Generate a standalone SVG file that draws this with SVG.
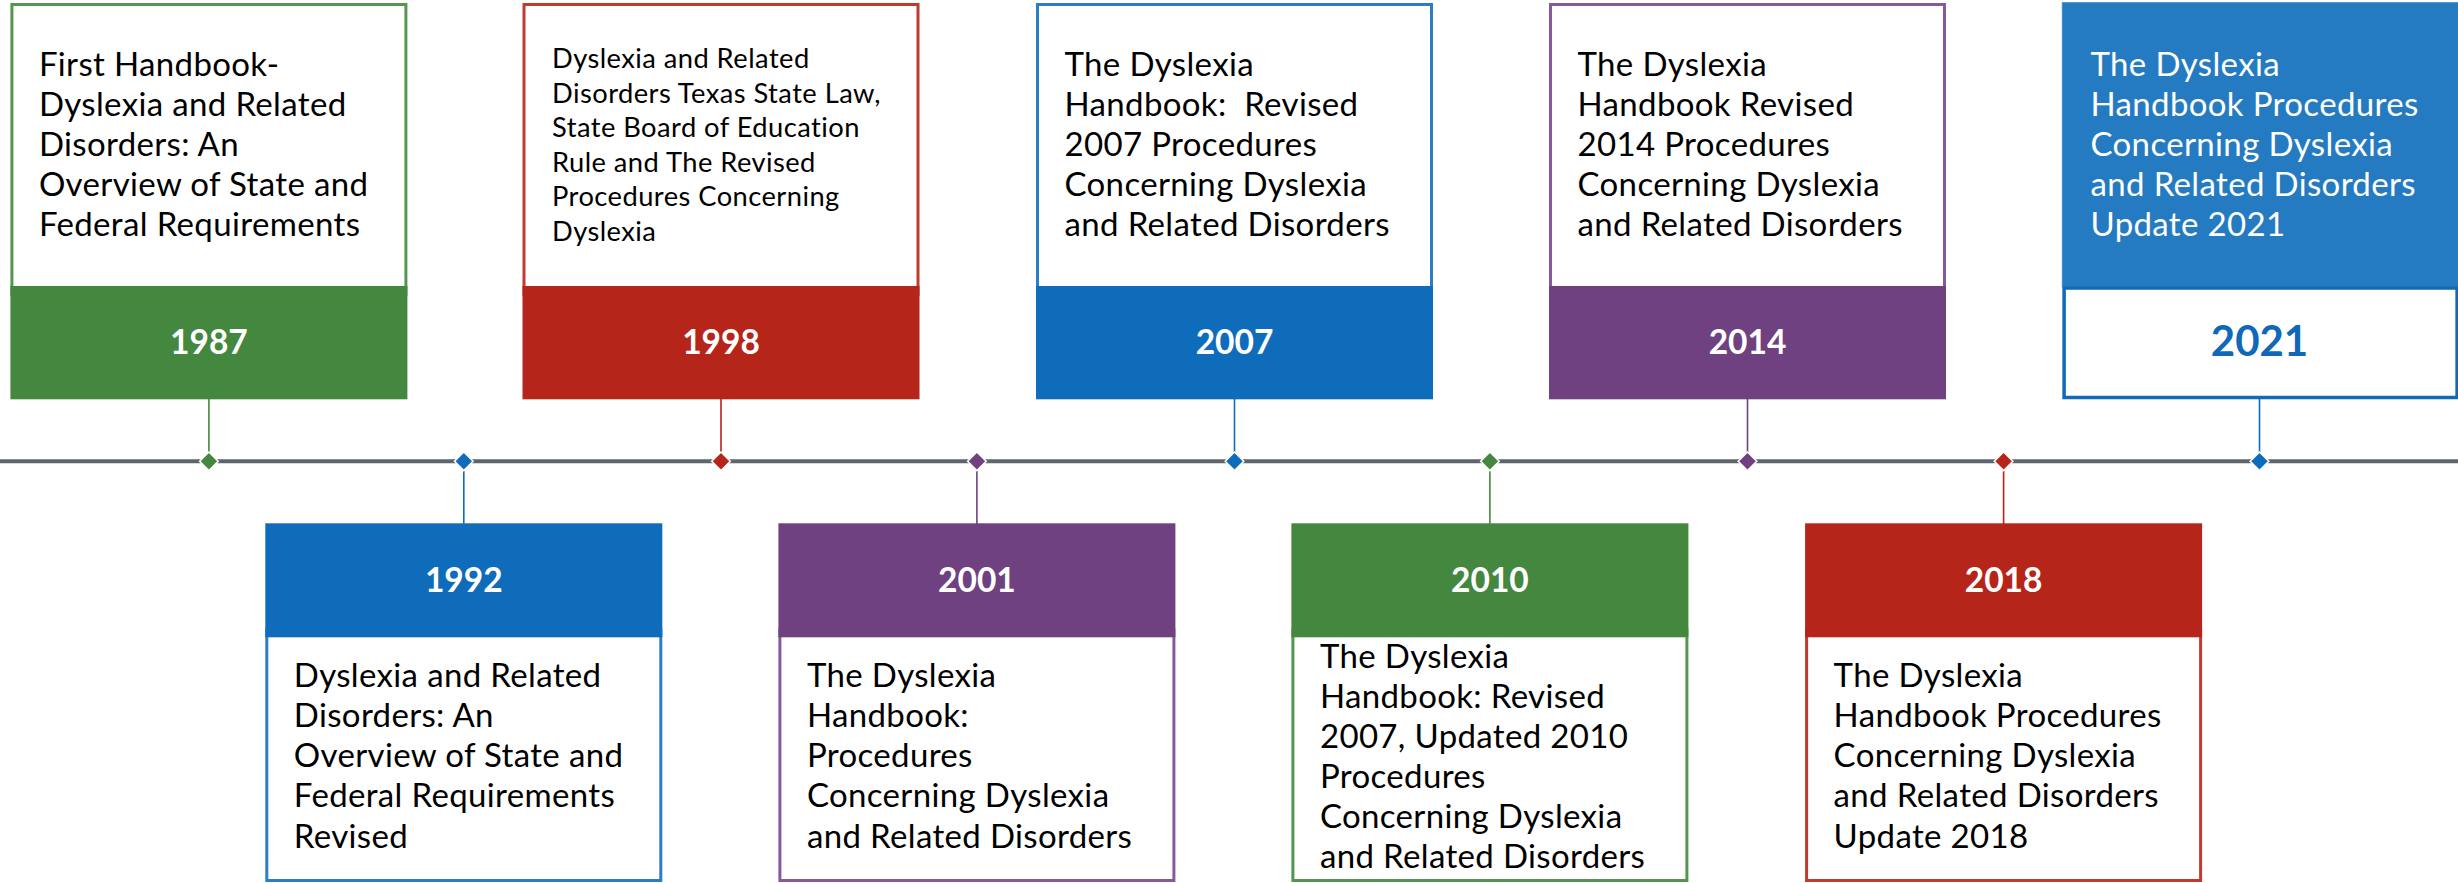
<svg xmlns="http://www.w3.org/2000/svg" width="2458" height="883" viewBox="0 0 2458 883">
<style>
.body{font-family:Lato,"Open Sans","Liberation Sans",sans-serif;font-size:33px;font-weight:400;letter-spacing:0.35px;fill:#000}
.small{font-size:27.3px;letter-spacing:0.45px}
.year{font-family:Lato,"Open Sans","Liberation Sans",sans-serif;font-weight:700;font-size:33.5px;fill:#fff;text-anchor:middle}
.y21{font-size:42px;fill:#1068B8}
.box{fill:#fff;stroke-width:3}
.stem{stroke-width:1.6;fill:none}
.dia{stroke:#fff;stroke-width:1.5}
.gB{stroke:#549650}.gF{fill:#43883E}.gS{stroke:#43883E}
.rB{stroke:#C13A2E}.rF{fill:#B5251A}.rS{stroke:#B5251A}
.bB{stroke:#2D7DC5}.bF{fill:#0F6CBA}.bS{stroke:#0F6CBA}
.pB{stroke:#87599A}.pF{fill:#6F4180}.pS{stroke:#6F4180}
</style>
<rect width="2458" height="883" fill="#fff"/>
<g id="connectors">
 <line x1="0" y1="461.3" x2="2458" y2="461.3" stroke="#5E656B" stroke-width="4"/>
 <line class="stem gS" x1="208.9" y1="399" x2="208.9" y2="461"/>
 <line class="stem bS" x1="463.8" y1="461" x2="463.8" y2="524"/>
 <line class="stem rS" x1="721" y1="399" x2="721" y2="461"/>
 <line class="stem pS" x1="976.9" y1="461" x2="976.9" y2="524"/>
 <line class="stem bS" x1="1234.5" y1="399" x2="1234.5" y2="461"/>
 <line class="stem gS" x1="1489.9" y1="461" x2="1489.9" y2="524"/>
 <line class="stem pS" x1="1747.5" y1="399" x2="1747.5" y2="461"/>
 <line class="stem rS" x1="2003.6" y1="461" x2="2003.6" y2="524"/>
 <line class="stem bS" x1="2259.5" y1="399" x2="2259.5" y2="461"/>
</g>
<g id="n1987" transform="translate(208.9,0)">
 <rect class="box gB" x="-197" y="4.5" width="394" height="290"/>
 <rect class="gF" x="-198.5" y="286" width="397" height="113.3"/>
 <text class="year" x="0" y="353.5">1987</text>
 <text class="body"><tspan x="-170" y="76">First Handbook-</tspan><tspan x="-170" y="116">Dyslexia and Related</tspan><tspan x="-170" y="156">Disorders: An</tspan><tspan x="-170" y="196">Overview of State and</tspan><tspan x="-170" y="236">Federal Requirements</tspan></text>
 <path class="dia gF" d="M0,452 L9.3,461.3 L0,470.6 L-9.3,461.3Z"/>
</g>
<g id="n1992" transform="translate(463.8,0)">
 <rect class="box bB" x="-197" y="630" width="394" height="250.5"/>
 <rect class="bF" x="-198.5" y="523.3" width="397" height="114"/>
 <text class="year" x="0" y="591.5">1992</text>
 <text class="body"><tspan x="-170" y="687.3">Dyslexia and Related</tspan><tspan x="-170" y="727.3">Disorders: An</tspan><tspan x="-170" y="767.3">Overview of State and</tspan><tspan x="-170" y="807.3">Federal Requirements</tspan><tspan x="-170" y="847.5">Revised</tspan></text>
 <path class="dia bF" d="M0,452 L9.3,461.3 L0,470.6 L-9.3,461.3Z"/>
</g>
<g id="n1998" transform="translate(721,0)">
 <rect class="box rB" x="-197" y="4.5" width="394" height="290"/>
 <rect class="rF" x="-198.5" y="286" width="397" height="113.3"/>
 <text class="year" x="0" y="353.5">1998</text>
 <text class="body small"><tspan x="-169" y="68.3">Dyslexia and Related</tspan><tspan x="-169" y="102.8">Disorders Texas State Law,</tspan><tspan x="-169" y="137.3">State Board of Education</tspan><tspan x="-169" y="171.8">Rule and The Revised</tspan><tspan x="-169" y="206.3">Procedures Concerning</tspan><tspan x="-169" y="240.8">Dyslexia</tspan></text>
 <path class="dia rF" d="M0,452 L9.3,461.3 L0,470.6 L-9.3,461.3Z"/>
</g>
<g id="n2001" transform="translate(976.9,0)">
 <rect class="box pB" x="-197" y="630" width="394" height="250.5"/>
 <rect class="pF" x="-198.5" y="523.3" width="397" height="114"/>
 <text class="year" x="0" y="591.5">2001</text>
 <text class="body"><tspan x="-170" y="687.3">The Dyslexia</tspan><tspan x="-170" y="727.3">Handbook:</tspan><tspan x="-170" y="767.3">Procedures</tspan><tspan x="-170" y="807.3">Concerning Dyslexia</tspan><tspan x="-170" y="847.5">and Related Disorders</tspan></text>
 <path class="dia pF" d="M0,452 L9.3,461.3 L0,470.6 L-9.3,461.3Z"/>
</g>
<g id="n2007" transform="translate(1234.5,0)">
 <rect class="box bB" x="-197" y="4.5" width="394" height="290"/>
 <rect class="bF" x="-198.5" y="286" width="397" height="113.3"/>
 <text class="year" x="0" y="353.5">2007</text>
 <text class="body" xml:space="preserve"><tspan x="-170" y="76">The Dyslexia</tspan><tspan x="-170" y="116">Handbook:  Revised</tspan><tspan x="-170" y="156">2007 Procedures</tspan><tspan x="-170" y="196">Concerning Dyslexia</tspan><tspan x="-170" y="236">and Related Disorders</tspan></text>
 <path class="dia bF" d="M0,452 L9.3,461.3 L0,470.6 L-9.3,461.3Z"/>
</g>
<g id="n2010" transform="translate(1489.9,0)">
 <rect class="box gB" x="-197" y="630" width="394" height="250.5"/>
 <rect class="gF" x="-198.5" y="523.3" width="397" height="114"/>
 <text class="year" x="0" y="591.5">2010</text>
 <text class="body"><tspan x="-170" y="668.3">The Dyslexia</tspan><tspan x="-170" y="708.3">Handbook: Revised</tspan><tspan x="-170" y="748.3">2007, Updated 2010</tspan><tspan x="-170" y="788.3">Procedures</tspan><tspan x="-170" y="828.3">Concerning Dyslexia</tspan><tspan x="-170" y="868.3">and Related Disorders</tspan></text>
 <path class="dia gF" d="M0,452 L9.3,461.3 L0,470.6 L-9.3,461.3Z"/>
</g>
<g id="n2014" transform="translate(1747.5,0)">
 <rect class="box pB" x="-197" y="4.5" width="394" height="290"/>
 <rect class="pF" x="-198.5" y="286" width="397" height="113.3"/>
 <text class="year" x="0" y="353.5">2014</text>
 <text class="body"><tspan x="-170" y="76">The Dyslexia</tspan><tspan x="-170" y="116">Handbook Revised</tspan><tspan x="-170" y="156">2014 Procedures</tspan><tspan x="-170" y="196">Concerning Dyslexia</tspan><tspan x="-170" y="236">and Related Disorders</tspan></text>
 <path class="dia pF" d="M0,452 L9.3,461.3 L0,470.6 L-9.3,461.3Z"/>
</g>
<g id="n2018" transform="translate(2003.6,0)">
 <rect class="box rB" x="-197" y="630" width="394" height="250.5"/>
 <rect class="rF" x="-198.5" y="523.3" width="397" height="114"/>
 <text class="year" x="0" y="591.5">2018</text>
 <text class="body"><tspan x="-170" y="687.3">The Dyslexia</tspan><tspan x="-170" y="727.3">Handbook Procedures</tspan><tspan x="-170" y="767.3">Concerning Dyslexia</tspan><tspan x="-170" y="807.3">and Related Disorders</tspan><tspan x="-170" y="847.5">Update 2018</tspan></text>
 <path class="dia rF" d="M0,452 L9.3,461.3 L0,470.6 L-9.3,461.3Z"/>
</g>
<g id="n2021" transform="translate(2259.5,0)">
 <rect x="-197.2" y="2.7" width="400" height="284" fill="#257BC1" stroke="#3F8BCB" stroke-width="1"/>
 <rect x="-195.4" y="288" width="393" height="109.5" fill="#fff" stroke="#1169B9" stroke-width="3.5"/>
 <text class="year y21" x="0" y="356">2021</text>
 <text class="body" style="fill:#fff"><tspan x="-169" y="76">The Dyslexia</tspan><tspan x="-169" y="116">Handbook Procedures</tspan><tspan x="-169" y="156">Concerning Dyslexia</tspan><tspan x="-169" y="196">and Related Disorders</tspan><tspan x="-169" y="236">Update 2021</tspan></text>
 <path class="dia bF" d="M0,452 L9.3,461.3 L0,470.6 L-9.3,461.3Z"/>
</g>
</svg>
